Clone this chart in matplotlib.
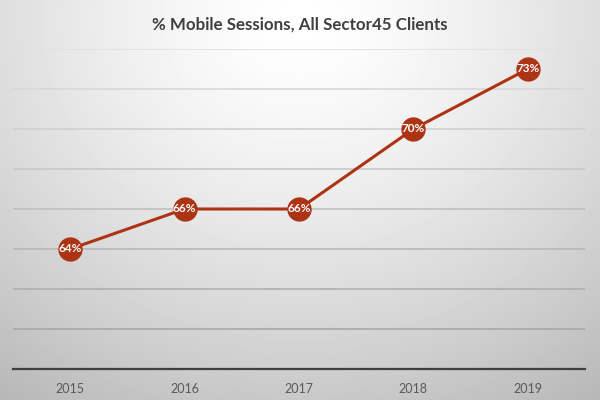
import numpy as np
import matplotlib
matplotlib.use('Agg')
import matplotlib.pyplot as plt

# 數據
years = ['2015', '2016', '2017', '2018', '2019']
mobile_pct = [64, 66, 66, 70, 73]

title = '% Mobile Sessions, All Sector45 Clients'
line_color = '#AD3315'

plt.rcParams['font.family'] = ['Lato', 'DejaVu Sans']

fig = plt.figure(figsize=(6, 4), dpi=100)

# 背景漸層 (radial, white at top centre)
bg = fig.add_axes([0, 0, 1, 1], zorder=0)
yy, xx = np.mgrid[0:1:200j, 0:1:300j]
dist = np.sqrt(((xx - 0.5) / 0.75) ** 2 + ((yy - 0.05) / 1.0) ** 2)
shade = 1.0 - 0.23 * np.clip(dist, 0, 1.2) ** 1.4
bg.imshow(shade, cmap='gray', vmin=0, vmax=1, aspect='auto', extent=[0, 1, 1, 0])
bg.axis('off')

ax = fig.add_axes([13 / 600, 1 - 369 / 400, 572 / 600, 320 / 400], zorder=1)
ax.patch.set_alpha(0)

# 網格線 (lighter near the top, like the reference)
grid_levels = np.arange(60, 75, 2)
for g in grid_levels:
    t = (g - 60) / 14
    c = 0.66 + 0.22 * t
    ax.axhline(g, color=(c, c, c), linewidth=1.2, zorder=1)

x = np.arange(len(years))
ax.plot(x, mobile_pct, color=line_color, linewidth=2.2, marker='o',
        markersize=16.5, markerfacecolor=line_color, markeredgecolor=line_color,
        zorder=3)
for xi, v in zip(x, mobile_pct):
    ax.text(xi, v, f'{v}%', ha='center', va='center', color='white',
            fontsize=8.5, fontweight='bold', zorder=4)

ax.set_xlim(-0.5, len(years) - 0.5)
ax.set_ylim(58, 74)
ax.set_yticks([])
ax.tick_params(axis='x', length=0, labelsize=9, labelcolor='#595959', pad=10)
ax.set_xticks(x)
ax.set_xticklabels(years)
for side in ['left', 'right', 'top']:
    ax.spines[side].set_visible(False)
ax.spines['bottom'].set_color('#404040')
ax.spines['bottom'].set_linewidth(1.6)

fig.text(0.5, 1 - 25 / 400, title, ha='center', va='center', fontsize=12.2,
         fontweight='bold', color='#404040')

fig.savefig('out.png', dpi=100)
